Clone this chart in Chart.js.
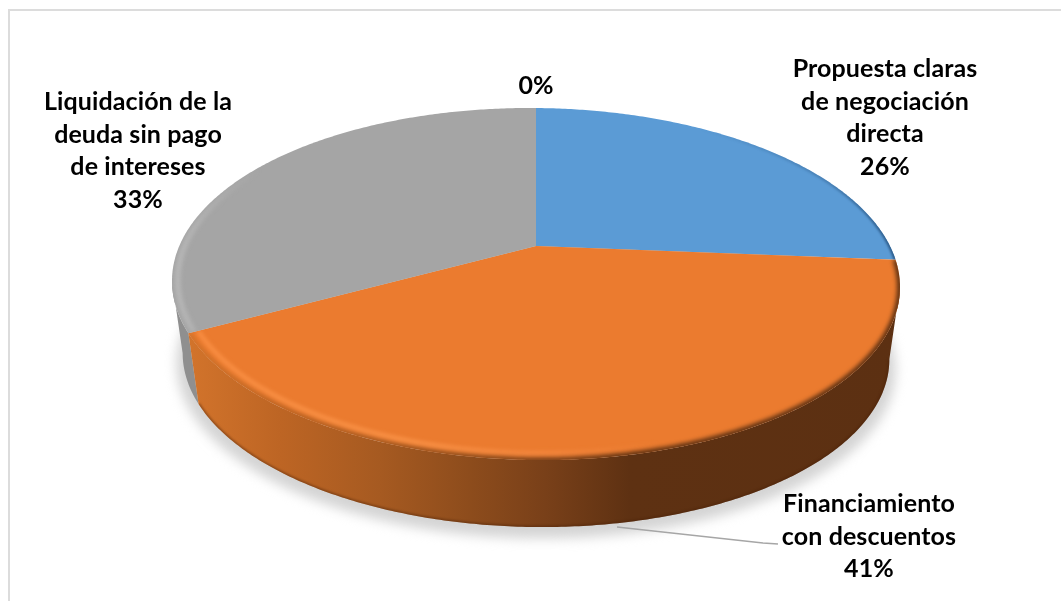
<!DOCTYPE html>
<html lang="es">
<head>
    <meta charset="UTF-8">
    <title>Grafico</title>
    <script src="https://cdn.jsdelivr.net/npm/chart.js"></script>
    <style>
        body{ margin: 0; background: #fff; }
        canvas{ display: block; }
    </style>
</head>
<body>
    <canvas id="grafico1" width="1061" height="601"></canvas>

    <script>
        const categorias = [
            ['Propuesta claras', 'de negociación', 'directa'],
            ['Financiamiento', 'con descuentos'],
            ['Liquidación de la', 'deuda sin pago', 'de intereses'],
            []
        ]
        const valores = [26, 41, 33, 0]
        const colores = ['#5b9bd5', '#eb7b2f', '#a5a5a5', '#ffc000']

        // centro de cada bloque de texto, en el mismo orden que categorias
        const posTexto = [[885, 69], [869, 504], [138, 102], [536, 86]]

        // plano superior e inferior del disco, con perspectiva K
        const K = 0.216
        const SESGO = 3
        const CX = 536
        const tapa = { a: 355.4, b: 167.8, cy: 246 }
        const base = { a: 345, b: 162.8, cy: 319.4 }

        const punto = (ang, p, r = 1) => {
            const X = r * Math.cos(ang), Y = -r * Math.sin(ang)
            const w = 1 + K * Y
            return [CX + p.a * X / w, p.cy - p.b * Y / w + SESGO * X / w]
        }
        const arco = (c, ini, fin, p, r = 1, mover = false) => {
            const pasos = Math.max(2, Math.ceil(Math.abs(fin - ini) / 0.01))
            for (let i = 0; i <= pasos; i++) {
                const q = punto(ini + (fin - ini) * i / pasos, p, r)
                if (i === 0 && mover) c.moveTo(q[0], q[1])
                else c.lineTo(q[0], q[1])
            }
        }
        const degradado = (c, paradas) => {
            const g = c.createLinearGradient(160, 0, 910, 0)
            paradas.forEach(s => g.addColorStop((s[0] - 160) / 750, s[1]))
            return g
        }
        const borde = (c, ini, fin, r, ancho, estilo, blur) => {
            c.save()
            c.filter = `blur(${blur}px)`
            c.lineWidth = ancho
            c.strokeStyle = estilo
            c.beginPath()
            arco(c, ini, fin, tapa, r, true)
            c.stroke()
            c.restore()
        }

        const disco3d = {
            id: 'disco3d',
            beforeDraw(chart) {
                const c = chart.ctx
                // marco del area del grafico
                c.fillStyle = '#dcdcdc'
                c.fillRect(8, 9, 1053, 2)
                c.fillRect(8, 9, 2, 592)
            },
            beforeDatasetDraw(chart, args) {
                const c = chart.ctx
                const arcos = args.meta.data
                const giroDer = Math.acos(-K) - Math.PI / 2
                const giroIzq = Math.PI * 1.5 - Math.acos(-K)

                // sombra sobre el fondo
                c.save()
                c.filter = 'blur(6px)'
                c.fillStyle = '#d4d4d4'
                c.beginPath()
                arco(c, -Math.PI, Math.PI, { a: base.a + 6, b: base.b + 1, cy: base.cy + 10 }, 1, true)
                c.fill()
                c.restore()

                // paredes laterales: primero el gris, luego el naranja delante
                const naranja = arcos[1], gris = arcos[2]
                const pared = (ini, fin, estilo) => {
                    c.beginPath()
                    arco(c, ini, fin, tapa, 1, true)
                    arco(c, fin, ini, base)
                    c.closePath()
                    c.fillStyle = estilo
                    c.fill()
                }
                pared(gris.startAngle, giroIzq, '#8f8f8f')
                const paredNaranja = degradado(c, [
                    [180, '#d4752c'], [280, '#bd6524'], [380, '#a65a21'],
                    [470, '#8d4c1c'], [545, '#794019'], [630, '#5e3112'], [905, '#5c3012']
                ])
                pared(giroDer, naranja.endAngle, paredNaranja)

                // linea oscura al pie de la pared
                c.save()
                c.beginPath()
                arco(c, giroDer, naranja.endAngle, tapa, 1, true)
                arco(c, naranja.endAngle, giroDer, base)
                c.closePath()
                c.clip()
                c.lineWidth = 3
                c.strokeStyle = 'rgba(70,32,6,0.45)'
                c.filter = 'blur(1px)'
                c.beginPath()
                arco(c, giroDer, naranja.endAngle, base, 1, true)
                c.stroke()
                c.restore()

                // caras superiores
                arcos.forEach((el, i) => {
                    if (el.endAngle - el.startAngle <= 0) return
                    c.save()
                    c.beginPath()
                    c.moveTo(CX, tapa.cy)
                    arco(c, el.startAngle, el.endAngle, tapa)
                    c.closePath()
                    c.fillStyle = el.options.backgroundColor
                    c.fill()
                    c.clip()
                    if (i === 1) {
                        borde(c, el.startAngle, el.endAngle, 1, 6, paredNaranja, 2.2)
                        borde(c, el.startAngle, el.endAngle, 0.975, 3.5, degradado(c, [
                            [180, 'rgba(255,150,75,0.9)'], [420, 'rgba(255,155,80,0.9)'],
                            [560, 'rgba(255,150,80,0.5)'], [660, 'rgba(255,150,80,0)'], [905, 'rgba(255,150,80,0)']
                        ]), 2)
                    } else if (i === 0) {
                        borde(c, el.startAngle, el.endAngle, 1, 4, degradado(c, [
                            [700, 'rgba(40,85,130,0)'], [830, 'rgba(40,85,130,0.4)'], [905, 'rgba(40,85,130,1)']
                        ]), 1)
                    } else if (i === 2) {
                        borde(c, el.startAngle, el.endAngle, 0.985, 5, degradado(c, [
                            [170, 'rgba(195,195,195,0.75)'], [210, 'rgba(195,195,195,0.35)'], [260, 'rgba(195,195,195,0)'], [905, 'rgba(195,195,195,0)']
                        ]), 2)
                    }
                    c.restore()
                })
                return false
            },
            afterDatasetsDraw(chart) {
                const c = chart.ctx
                // linea guia de la etiqueta inferior
                c.strokeStyle = '#a6a6a6'
                c.lineWidth = 1.5
                c.beginPath()
                c.moveTo(617, 527)
                c.lineTo(763, 543)
                c.lineTo(778, 544)
                c.stroke()

                c.fillStyle = '#000'
                c.font = 'bold 25px Lato'
                c.letterSpacing = '0.1px'
                c.textAlign = 'center'
                c.textBaseline = 'middle'
                categorias.forEach((lineas, i) => {
                    const filas = [...lineas, valores[i] + '%']
                    filas.forEach((t, j) => c.fillText(t, posTexto[i][0], posTexto[i][1] + j * 32.5))
                })
            }
        }

        const ctx = document.getElementById('grafico1')
        new Chart(ctx, {
            type: 'pie',
            data: {
                labels: categorias,
                datasets: [{ data: valores, backgroundColor: colores, borderWidth: 0 }]
            },
            options: {
                responsive: false,
                animation: false,
                plugins: { legend: { display: false }, tooltip: { enabled: false } }
            },
            plugins: [disco3d]
        })
    </script>
</body>
</html>
